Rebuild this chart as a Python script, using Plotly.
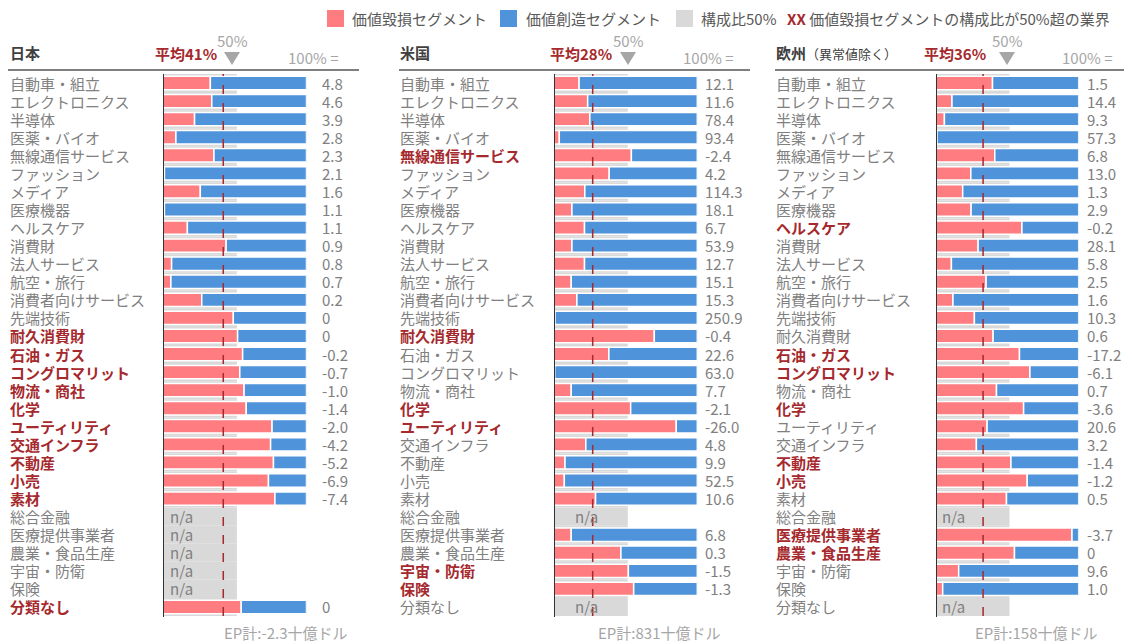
import plotly.graph_objects as go

W, H = 1132, 644
OFF = 8  # page body margin

industries = ["自動車・組立", "エレクトロニクス", "半導体", "医薬・バイオ", "無線通信サービス",
              "ファッション", "メディア", "医療機器", "ヘルスケア", "消費財", "法人サービス",
              "航空・旅行", "消費者向けサービス", "先端技術", "耐久消費財", "石油・ガス",
              "コングロマリット", "物流・商社", "化学", "ユーティリティ", "交通インフラ",
              "不動産", "小売", "素材", "総合金融", "医療提供事業者", "農業・食品生産",
              "宇宙・防衛", "保険", "分類なし"]

N = None
# share of value-destroying segments (0-1), None = n/a
jp_share = [0.33, 0.34, 0.22, 0.09, 0.355, 0.01, 0.26, 0.01, 0.17, 0.44, 0.06, 0.055, 0.27, 0.49,
            0.52, 0.555, 0.535, 0.565, 0.58, 0.76, 0.75, 0.77, 0.735, 0.78, N, N, N, N, N, 0.545]
us_share = [0.175, 0.235, 0.25, 0.037, 0.54, 0.385, 0.215, 0.125, 0.213, 0.125, 0.213, 0.12, 0.16,
            0.007, 0.70, 0.383, 0.005, 0.12, 0.535, 0.853, 0.222, 0.077, 0.072, 0.29, N, 0.12,
            0.467, 0.519, 0.556, N]
eu_share = [0.396, 0.112, 0.059, 0.007, 0.412, 0.244, 0.187, 0.246, 0.602, 0.295, 0.108, 0.351,
            0.119, 0.269, 0.40, 0.585, 0.658, 0.424, 0.614, 0.358, 0.283, 0.525, 0.639, 0.494, N,
            0.953, 0.55, 0.159, 0.047, N]

# economic profit (billion USD) = "100% ="
jp_ep = [4.8, 4.6, 3.9, 2.8, 2.3, 2.1, 1.6, 1.1, 1.1, 0.9, 0.8, 0.7, 0.2, 0, 0, -0.2, -0.7, -1.0,
         -1.4, -2.0, -4.2, -5.2, -6.9, -7.4, N, N, N, N, N, 0]
us_ep = [12.1, 11.6, 78.4, 93.4, -2.4, 4.2, 114.3, 18.1, 6.7, 53.9, 12.7, 15.1, 15.3, 250.9, -0.4,
         22.6, 63.0, 7.7, -2.1, -26.0, 4.8, 9.9, 52.5, 10.6, N, 6.8, 0.3, -1.5, -1.3, N]
eu_ep = [1.5, 14.4, 9.3, 57.3, 6.8, 13.0, 1.3, 2.9, -0.2, 28.1, 5.8, 2.5, 1.6, 10.3, 0.6, -17.2,
         -6.1, 0.7, -3.6, 20.6, 3.2, -1.4, -1.2, 0.5, N, -3.7, 0, 9.6, 1.0, N]

regions = ["日本", "米国", "欧州"]
region_notes = ["", "", "（異常値除く）"]
averages = [41, 28, 36]
avg_line_pos = [0.42, 0.27, 0.33]
ep_totals = [-2.3, 831, 158]
grey_ref = 0.515

shares = [jp_share, us_share, eu_share]
eps = [jp_ep, us_ep, eu_ep]

RED = "#FF7C80"
BLUE = "#4F94DA"
GREY = "#D9D9D9"
DARKRED = "#A5292D"
TXT = "#808080"
DARK = "#404040"
LIGHT = "#A6A6A6"
FONT = "Noto Sans CJK JP"


def px(x):
    return (x - OFF) / W


def py(y):
    return 1 - (y - OFF) / H


# layout geometry in screen pixels
panel_x = [(163, 306.5), (554, 697.3), (936, 1078.7)]
label_x = [8, 398, 774]
value_x = [320, 703, 1085]
rule_x = [(8, 359), (399, 750), (775, 1130)]
avg_right = [219, 614, 988]
fifty_x = [232, 628, 1007]
hundred_x = [286, 681, 1060]
ep_x = [222, 596, 973]
na_x = [0.035, 0.13, 0.025]
y_top, y_bot = 74, 616

fig = go.Figure()
annotations = []
shapes = []

for i in range(3):
    xa = "x" if i == 0 else f"x{i+1}"
    ya = "y" if i == 0 else f"y{i+1}"
    share = shares[i]
    ep = eps[i]

    fig.add_trace(go.Bar(y=industries, x=[grey_ref] * len(industries), orientation="h",
                         width=1.0, marker=dict(color=GREY, line=dict(width=0)),
                         hoverinfo="skip", showlegend=False, xaxis=xa, yaxis=ya))
    red_x = [s if s is not None else None for s in share]
    blue_x = [1 - s if s is not None else None for s in share]
    blue_base = [s if s is not None else 0 for s in share]
    fig.add_trace(go.Bar(y=industries, x=red_x, orientation="h", width=0.74,
                         marker=dict(color=RED, line=dict(color="white", width=1.5)),
                         showlegend=False, xaxis=xa, yaxis=ya))
    fig.add_trace(go.Bar(y=industries, x=blue_x, base=blue_base, orientation="h", width=0.74,
                         marker=dict(color=BLUE, line=dict(color="white", width=1.5)),
                         showlegend=False, xaxis=xa, yaxis=ya))

    x0, x1 = panel_x[i]
    fig.layout[("xaxis" if i == 0 else f"xaxis{i+1}")] = dict(
        domain=[px(x0), px(x1)], range=[0, 1], visible=False, fixedrange=True, anchor=ya)
    fig.layout[("yaxis" if i == 0 else f"yaxis{i+1}")] = dict(
        domain=[py(y_bot), py(y_top)], range=[len(industries) - 0.5, -0.5], type="category",
        categoryarray=industries, visible=False, fixedrange=True, anchor=xa)

    # industry labels, values, n/a
    for j, name in enumerate(industries):
        s = share[j]
        hl = s is not None and s > 0.5
        txt = f"<b>{name}</b>" if hl else name
        annotations.append(dict(x=px(label_x[i]), y=name, xref="paper", yref=ya, text=txt,
                                showarrow=False, xanchor="left", yanchor="middle",
                                font=dict(size=15, color=DARKRED if hl else TXT)))
        if s is None:
            annotations.append(dict(x=na_x[i], y=name, xref=xa, yref=ya, text="n/a",
                                    showarrow=False, xanchor="left", yanchor="middle",
                                    font=dict(size=15, color=TXT)))
        v = ep[j]
        if v is not None:
            vt = "0" if v == 0 else f"{v:.1f}"
            annotations.append(dict(x=px(value_x[i]), y=name, xref="paper", yref=ya, text=vt,
                                    showarrow=False, xanchor="left", yanchor="middle",
                                    font=dict(size=15, color=TXT)))

    # average dashed line and axis line
    shapes.append(dict(type="line", xref=xa, yref=f"{ya} domain", x0=avg_line_pos[i],
                       x1=avg_line_pos[i], y0=0, y1=1,
                       line=dict(color=DARKRED, width=1.5, dash="dash")))
    shapes.append(dict(type="line", xref=xa, yref=f"{ya} domain", x0=0, x1=0, y0=-0.002, y1=1,
                       line=dict(color="#333333", width=2)))

    # header
    title = f"<b>{regions[i]}</b>"
    if region_notes[i]:
        title += f"<span style='font-size:13px;color:{DARK}'>{region_notes[i]}</span>"
    annotations.append(dict(x=px(label_x[i]), y=py(52), xref="paper", yref="paper", text=title,
                            showarrow=False, xanchor="left", yanchor="middle",
                            font=dict(size=15, color=DARK)))
    annotations.append(dict(x=px(avg_right[i]), y=py(54), xref="paper", yref="paper",
                            text=f"<b>平均{averages[i]}%</b>", showarrow=False,
                            xanchor="right", yanchor="middle",
                            font=dict(size=15, color=DARKRED)))
    annotations.append(dict(x=px(fifty_x[i]), y=py(41), xref="paper", yref="paper",
                            text="50%", showarrow=False, xanchor="center", yanchor="middle",
                            font=dict(size=15, color=LIGHT)))
    fx = fifty_x[i]
    shapes.append(dict(type="path", xref="paper", yref="paper",
                       path=f"M {px(fx-8)} {py(52)} L {px(fx+8)} {py(52)} L {px(fx)} {py(65)} Z",
                       fillcolor=LIGHT, line=dict(width=0)))
    annotations.append(dict(x=px(hundred_x[i]), y=py(57), xref="paper", yref="paper",
                            text="100% =", showarrow=False, xanchor="left", yanchor="middle",
                            font=dict(size=15, color=LIGHT)))
    r0, r1 = rule_x[i]
    shapes.append(dict(type="line", xref="paper", yref="paper", x0=px(r0), x1=px(r1),
                       y0=py(70), y1=py(70), line=dict(color="#7F7F7F", width=2)))
    annotations.append(dict(x=px(ep_x[i]), y=py(632), xref="paper", yref="paper",
                            text=f"EP計:{ep_totals[i]:g}十億ドル", showarrow=False,
                            xanchor="left", yanchor="middle",
                            font=dict(size=15, color=LIGHT)))

# legend (drawn manually)
legend_items = [(327, RED, 350, "価値毀損セグメント"),
                (500, BLUE, 524, "価値創造セグメント"),
                (676, GREY, 699, "構成比50%")]
for sx, col, tx, label in legend_items:
    shapes.append(dict(type="rect", xref="paper", yref="paper", x0=px(sx), x1=px(sx + 17),
                       y0=py(27), y1=py(10), fillcolor=col, line=dict(width=0)))
    annotations.append(dict(x=px(tx), y=py(18.5), xref="paper", yref="paper", text=label,
                            showarrow=False, xanchor="left", yanchor="middle",
                            font=dict(size=15, color="#595959")))
annotations.append(dict(x=px(785), y=py(18.5), xref="paper", yref="paper",
                        text=f"<b><span style='color:{DARKRED}'>XX</span></b> 価値毀損セグメントの構成比が50%超の業界",
                        showarrow=False, xanchor="left", yanchor="middle",
                        font=dict(size=15, color="#595959")))

fig.update_layout(width=W, height=H, margin=dict(l=0, r=0, t=0, b=0),
                  paper_bgcolor="white", plot_bgcolor="white", barmode="overlay",
                  font=dict(family=FONT), showlegend=False,
                  annotations=annotations, shapes=shapes)

fig.write_html("out.html")
